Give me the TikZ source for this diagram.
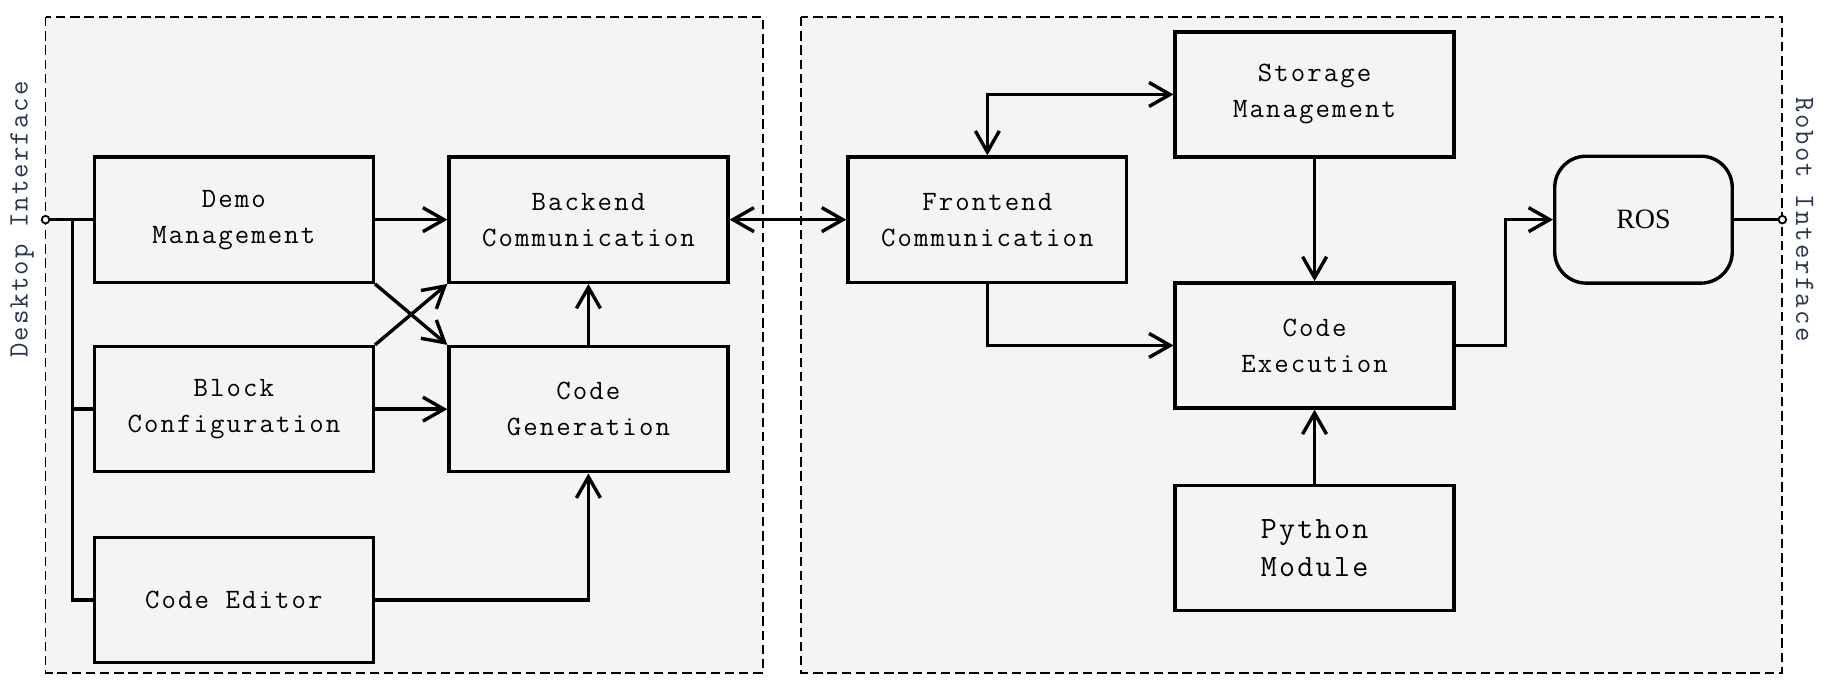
\documentclass[tikz,border=0pt]{standalone}
\usepackage{fontspec}
\setmainfont{Latin Modern Mono}[LetterSpace=7.5]
\newfontfamily\rosfont{Liberation Serif}
\usetikzlibrary{positioning,arrows.meta}
\definecolor{panel}{HTML}{F4F4F4}
\definecolor{sidetext}{HTML}{2B3550}
\tikzstyle{int}=[draw, fill=panel, minimum height = 2.2cm, minimum width=4.9cm, line width=1.7pt, align=center, font=\fontsize{14}{18}\selectfont]
\tikzstyle{int1}=[int, font=\fontsize{15.5}{19}\selectfont]
\tikzstyle{ros}=[draw, fill=panel, rounded corners=0.55cm, minimum height = 2.23cm, minimum width=3.12cm, line width=1.7pt, font=\rosfont\fontsize{14}{18}\selectfont]
\tikzstyle{term}=[circle, draw, fill=white, inner sep=0pt, minimum size=3.8pt, line width=0.9pt]
\tikzstyle{frame}=[draw, fill=panel, dash pattern=on 4.7pt off 2.4pt, line width=0.9pt]
\tikzstyle{side}=[text=sidetext, font=\fontsize{14}{18}\selectfont]

\begin{document}
\begin{tikzpicture}[node distance=2cm,auto,>={Straight Barb[length=10.5pt,width=12pt]},line width=1.7pt]
\useasboundingbox (-4.11,3.86) rectangle (28.03,-8.27);
\draw[frame] (-3.31,3.56) rectangle (9.30,-7.96);
\draw[frame] (9.97,3.56) rectangle (27.21,-7.96);

  \node[int] at (0,0) (demo) {Demo\\Management};
  \node[int, below of = demo, node distance = 3.33cm] (block) {Block\\Configuration};
  \node[int, below of = block, node distance = 3.35cm] (editor) {Code Editor};
  \node[int, right of = demo, node distance = 6.23cm] (backend) {Backend\\Communication};
  \node[int, right of = block, node distance = 6.23cm] (codegen) {Code\\Generation};

\node[int, right of = backend, node distance = 7.01cm] (frontend) {Frontend\\Communication};
\node[int, right of = frontend, node distance = 5.75cm, yshift = 2.2cm] (storage) {Storage\\Management};
\node[int, below of = storage, node distance = 4.41cm] (exec) {Code\\Execution};
\node[int1, below of = exec, node distance = 3.56cm] (python) {Python\\Module};
\node[ros, right of = frontend, node distance = 11.53cm] (ros) {ROS};

% interfaces
\node[term] at (-3.31,0) (desk) {};
\node[term] at (27.21,0) (robot) {};
\node[side, rotate=90] at (-3.72,0) (desklab) {Desktop Interface};
\node[side, rotate=-90] at (27.6,0) (robotlab) {Robot Interface};
\coordinate[right of = desk, node distance = 0.47cm] (bus);

\draw (desk) -- (demo);
\draw (bus) |- (block.west);
\draw (bus) |- (editor.west);

\draw[->] (demo) -- (backend);
\draw[->] (block) -- (codegen);
\draw[->] (demo.south east) -- (codegen.north west);
\draw[->] (block.north east) -- (backend.south west);
\draw[->] (codegen) -- (backend);
\draw[->] (editor) -| (codegen);

\draw[<->] (backend) -- (frontend);
\draw[<->] (storage.west) -| (frontend.north);
\draw[->] (frontend.south) |- (exec.west);
\draw[->] (storage) -- (exec);
\draw[->] (python) -- (exec);
\draw[->] (exec.east) -- +(0.88,0) |- (ros.west);
\draw (ros) -- (robot);
\end{tikzpicture}
\end{document}
